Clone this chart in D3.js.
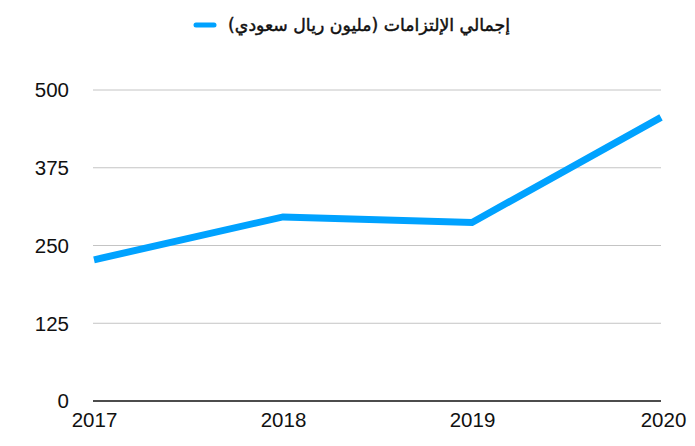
<!DOCTYPE html>
<html><head><meta charset="utf-8">
<script src="https://cdn.jsdelivr.net/npm/d3@7"></script>
<style>body{margin:0;background:#fff}svg{display:block}</style>
</head><body>
<svg id="c" width="695" height="446"></svg>
<script>
const years = [2017, 2018, 2019, 2020];
const values = [227, 296, 287, 456];
const yTicks = [0, 125, 250, 375, 500];
const seriesName = "إجمالي الإلتزامات (مليون ريال سعودي)";

const svg = d3.select("#c");
const x = d3.scaleLinear().domain([2017, 2020]).range([94, 661]);
const y = d3.scaleLinear().domain([0, 500]).range([401, 90]);

// gridlines
svg.append("g").selectAll("line").data(yTicks.filter(d => d > 0)).join("line")
  .attr("x1", 93).attr("x2", 661)
  .attr("y1", d => y(d)).attr("y2", d => y(d))
  .attr("stroke", "#c4c4c4").attr("stroke-width", 1);

// y labels
svg.append("g").selectAll("text").data(yTicks).join("text")
  .attr("x", 69).attr("y", d => y(d)).attr("dy", "0.36em")
  .attr("text-anchor", "end")
  .attr("font-family", "Liberation Sans, Arial, sans-serif").attr("font-size", 20.5)
  .attr("fill", "#111").text(d => d);

// x axis
const xAxis = d3.axisBottom(x).tickValues(years).tickFormat(d3.format("d")).tickSize(0).tickPadding(11);
const gx = svg.append("g").attr("transform", `translate(0,${y(0)})`).call(xAxis);
gx.select(".domain").attr("d", `M93,0H661`).attr("stroke", "#111").attr("stroke-width", 1.5);
gx.selectAll("text").attr("font-family", "Liberation Sans, Arial, sans-serif").attr("font-size", 20.5).attr("fill", "#111");
gx.selectAll(".tick").filter(d => d === 2020).select("text").attr("dx", 2);

// line
const line = d3.line().x((d, i) => x(years[i])).y(d => y(d));
svg.append("path").datum(values).attr("d", line)
  .attr("fill", "none").attr("stroke", "#00a2ff").attr("stroke-width", 7)
  .attr("stroke-linejoin", "miter");

// legend
svg.append("line").attr("x1", 196).attr("x2", 214).attr("y1", 25).attr("y2", 25)
  .attr("stroke", "#00a2ff").attr("stroke-width", 5).attr("stroke-linecap", "round");
svg.append("text").attr("x", 510).attr("y", 25).attr("dy", "0.35em")
  .attr("text-anchor", "end").attr("direction", "ltr")
  .attr("font-family", "DejaVu Sans, Noto Sans, sans-serif").attr("font-size", 17.3)
  .attr("fill", "#111").attr("stroke", "#111").attr("stroke-width", 0.45)
  .text(seriesName);
</script>
</body></html>
